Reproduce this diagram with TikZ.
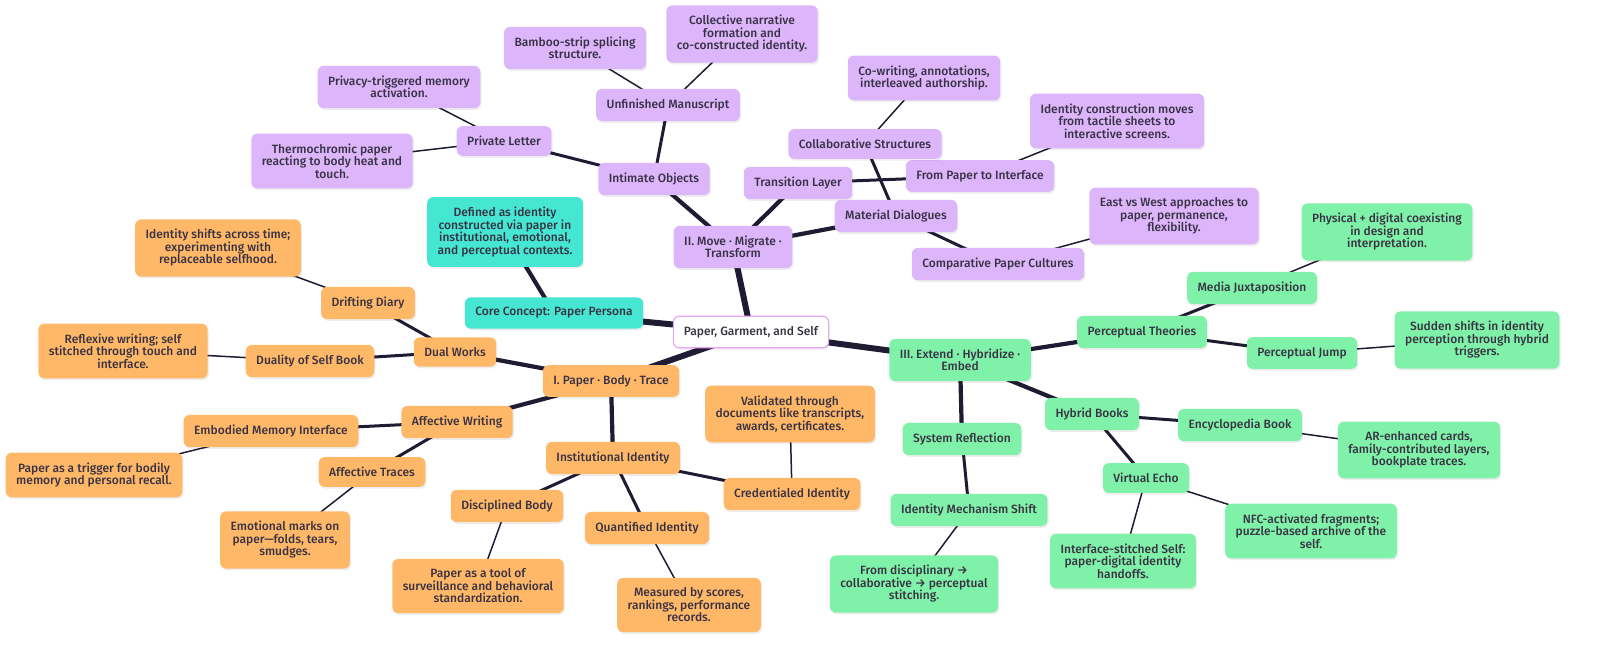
\documentclass[tikz,border=0pt]{standalone}
\usepackage{fontspec}
\setmainfont{Fira Sans}[UprightFont={* Medium}]
\usetikzlibrary{shadows}
\definecolor{pur}{HTML}{DCB5FB}
\definecolor{tea}{HTML}{45E6D2}
\definecolor{grn}{HTML}{80F1A8}
\definecolor{org}{HTML}{FFB868}
\definecolor{rootb}{HTML}{E9A6F5}
\definecolor{txt}{HTML}{383243}
\definecolor{edg}{HTML}{1F1B33}
\pgfdeclarelayer{bg}
\pgfsetlayers{bg,main}
\tikzset{
  box/.style={rounded corners=6pt, inner xsep=10.5pt, inner ysep=10pt, minimum height=29pt,
    align=center, text=txt, font=\fontsize{12}{12.5}\selectfont,
    drop shadow={shadow xshift=1.2pt,shadow yshift=-1.8pt,fill=black,opacity=0.07}},
  pbox/.style={box, fill=pur},
  tbox/.style={box, fill=tea},
  gbox/.style={box, fill=grn},
  obox/.style={box, fill=org},
  rbox/.style={box, fill=white, draw=rootb, line width=1.2pt},
  e1/.style={draw=edg, line width=6pt},
  e2/.style={draw=edg, line width=4.2pt},
  e3/.style={draw=edg, line width=3pt},
  e4/.style={draw=edg, line width=1.5pt},
}
\begin{document}
\begin{tikzpicture}[x=1pt,y=-1pt]
\useasboundingbox (0,0) rectangle (1600,654);
% root
\node[rbox] (root) at (751,332) {Paper, Garment, and Self};
% core
\node[tbox] (core) at (554,313) {Core Concept: Paper Persona};
\node[tbox] (def) at (505,232) {Defined as identity\\constructed via paper in\\institutional, emotional,\\and perceptual contexts.};
% II
\node[pbox] (two) at (733,247) {II. Move · Migrate ·\\Transform};
\node[pbox] (intim) at (654,179) {Intimate Objects};
\node[pbox] (plet) at (504,141) {Private Letter};
\node[pbox] (priv) at (399,87) {Privacy-triggered memory\\activation.};
\node[pbox] (thermo) at (332,161) {Thermochromic paper\\reacting to body heat and\\touch.};
\node[pbox] (unfin) at (668,105) {Unfinished Manuscript};
\node[pbox] (bamboo) at (575,48) {Bamboo-strip splicing\\structure.};
\node[pbox] (collect) at (742,34) {Collective narrative\\formation and\\co-constructed identity.};
\node[pbox] (trans) at (798,183) {Transition Layer};
\node[pbox] (fpti) at (980,176) {From Paper to Interface};
\node[pbox] (idcons) at (1117,121) {Identity construction moves\\from tactile sheets to\\interactive screens.};
\node[pbox] (matd) at (896,216) {Material Dialogues};
\node[pbox] (collab) at (865,144) {Collaborative Structures};
\node[pbox] (cowrit) at (924,78) {Co-writing, annotations,\\interleaved authorship.};
\node[pbox] (comp) at (998,264) {Comparative Paper Cultures};
\node[pbox] (east) at (1174,216) {East vs West approaches to\\paper, permanence,\\flexibility.};
% III
\node[gbox] (three) at (960,360) {III. Extend · Hybridize ·\\Embed};
\node[gbox] (perth) at (1142,332) {Perceptual Theories};
\node[gbox] (media) at (1252,288) {Media Juxtaposition};
\node[gbox] (phys) at (1387,232) {Physical + digital coexisting\\in design and\\interpretation.};
\node[gbox] (pjump) at (1302,353) {Perceptual Jump};
\node[gbox] (sudden) at (1477,340) {Sudden shifts in identity\\perception through hybrid\\triggers.};
\node[gbox] (hyb) at (1092,414) {Hybrid Books};
\node[gbox] (ency) at (1240,425) {Encyclopedia Book};
\node[gbox] (ar) at (1419,450) {AR-enhanced cards,\\family-contributed layers,\\bookplate traces.};
\node[gbox] (vecho) at (1146,478) {Virtual Echo};
\node[gbox] (nfc) at (1311,531) {NFC-activated fragments;\\puzzle-based archive of the\\self.};
\node[gbox] (ifs) at (1123,561) {Interface-stitched Self:\\paper-digital identity\\handoffs.};
\node[gbox] (sysr) at (962,439) {System Reflection};
\node[gbox] (idms) at (969,510) {Identity Mechanism Shift};
\node[gbox] (fromd) at (914,584) {From disciplinary →\\collaborative → perceptual\\stitching.};
% I
\node[obox] (one) at (611,381) {I. Paper · Body · Trace};
\node[obox] (dual) at (455,352) {Dual Works};
\node[obox] (drift) at (368,303) {Drifting Diary};
\node[obox] (idsh) at (218,248) {Identity shifts across time;\\experimenting with\\replaceable selfhood.};
\node[obox] (dsb) at (310,361) {Duality of Self Book};
\node[obox] (refl) at (123,351) {Reflexive writing; self\\stitched through touch and\\interface.};
\node[obox] (affw) at (457,422) {Affective Writing};
\node[obox] (emb) at (271,431) {Embodied Memory Interface};
\node[obox] (trig) at (94,475) {Paper as a trigger for bodily\\memory and personal recall.};
\node[obox] (afft) at (372,472) {Affective Traces};
\node[obox] (emo) at (285,540) {Emotional marks on\\paper—folds, tears,\\smudges.};
\node[obox] (inst) at (613,458) {Institutional Identity};
\node[obox] (cred) at (792,494) {Credentialed Identity};
\node[obox] (valid) at (790,414) {Validated through\\documents like transcripts,\\awards, certificates.};
\node[obox] (disc) at (507,506) {Disciplined Body};
\node[obox] (tool) at (478,586) {Paper as a tool of\\surveillance and behavioral\\standardization.};
\node[obox] (quant) at (647,528) {Quantified Identity};
\node[obox] (meas) at (689,605) {Measured by scores,\\rankings, performance\\records.};
\begin{pgfonlayer}{bg}
\draw[e1] (root.center) -- (core.center);
\draw[e1] (root.center) -- (two.center);
\draw[e1] (root.center) -- (one.center);
\draw[e1] (root.center) -- (three.center);
\draw[e2] (core.center) -- (def.center);
% II
\draw[e2] (two.center) -- (intim.center);
\draw[e2] (two.center) -- (trans.center);
\draw[e2] (two.center) -- (matd.center);
\draw[e3] (intim.center) -- (plet.center);
\draw[e3] (intim.center) -- (unfin.center);
\draw[e4] (plet.center) -- (priv.center);
\draw[e4] (plet.center) -- (thermo.center);
\draw[e4] (unfin.center) -- (bamboo.center);
\draw[e4] (unfin.center) -- (collect.center);
\draw[e3] (trans.center) -- (fpti.center);
\draw[e4] (fpti.center) -- (idcons.center);
\draw[e3] (matd.center) -- (collab.center);
\draw[e4] (collab.center) -- (cowrit.center);
\draw[e3] (matd.center) -- (comp.center);
\draw[e4] (comp.center) -- (east.center);
% III
\draw[e2] (three.center) -- (perth.center);
\draw[e2] (three.center) -- (sysr.center);
\draw[e2] (three.center) -- (hyb.center);
\draw[e3] (perth.center) -- (media.center);
\draw[e4] (media.center) -- (phys.center);
\draw[e3] (perth.center) -- (pjump.center);
\draw[e4] (pjump.center) -- (sudden.center);
\draw[e3] (hyb.center) -- (ency.center);
\draw[e4] (ency.center) -- (ar.center);
\draw[e3] (hyb.center) -- (vecho.center);
\draw[e4] (vecho.center) -- (nfc.center);
\draw[e4] (vecho.center) -- (ifs.center);
\draw[e3] (sysr.center) -- (idms.center);
\draw[e4] (idms.center) -- (fromd.center);
% I
\draw[e2] (one.center) -- (dual.center);
\draw[e2] (one.center) -- (affw.center);
\draw[e2] (one.center) -- (inst.center);
\draw[e3] (dual.center) -- (drift.center);
\draw[e4] (drift.center) -- (idsh.center);
\draw[e3] (dual.center) -- (dsb.center);
\draw[e4] (dsb.center) -- (refl.center);
\draw[e3] (affw.center) -- (emb.center);
\draw[e4] (emb.center) -- (trig.center);
\draw[e3] (affw.center) -- (afft.center);
\draw[e4] (afft.center) -- (emo.center);
\draw[e3] (inst.center) -- (disc.center);
\draw[e4] (disc.center) -- (tool.center);
\draw[e3] (inst.center) -- (quant.center);
\draw[e4] (quant.center) -- (meas.center);
\draw[e3] (inst.center) -- (cred.center);
\draw[e4] (cred.center) -- (valid.center);
\end{pgfonlayer}
\end{tikzpicture}
\end{document}
